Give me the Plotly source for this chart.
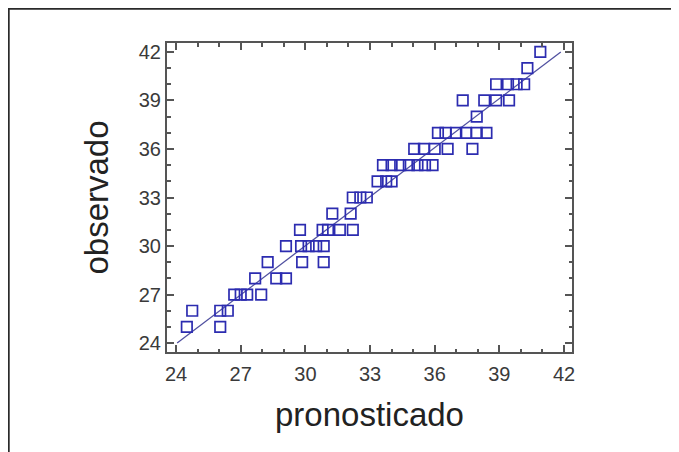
import plotly.graph_objects as go

# observed (y) vs predicted (x)
pronosticado = [
    24.5, 26.05,
    24.75, 26.05, 26.4,
    26.7, 27.0, 27.3, 27.95,
    27.67, 28.65, 29.1,
    28.25, 29.85, 30.85,
    29.1, 29.8, 30.15, 30.5, 30.85,
    29.75, 30.8, 31.05, 31.6, 32.2,
    31.25, 32.1,
    32.2, 32.55, 32.85,
    33.35, 33.75, 34.0,
    33.6, 34.0, 34.4, 34.8, 35.2, 35.55, 35.9,
    35.05, 35.5, 36.0, 36.6, 37.75,
    36.15, 36.5, 37.0, 37.45, 37.95, 38.4,
    37.95,
    37.3, 38.3, 38.85, 39.45,
    38.85, 39.4, 39.8, 40.15,
    40.3,
    40.9,
]
observado = [
    25, 25,
    26, 26, 26,
    27, 27, 27, 27,
    28, 28, 28,
    29, 29, 29,
    30, 30, 30, 30, 30,
    31, 31, 31, 31, 31,
    32, 32,
    33, 33, 33,
    34, 34, 34,
    35, 35, 35, 35, 35, 35, 35,
    36, 36, 36, 36, 36,
    37, 37, 37, 37, 37, 37,
    38,
    39, 39, 39, 39,
    40, 40, 40, 40,
    41,
    42,
]

# fitted line end points
fit_x = [24.05, 41.85]
fit_y = [24.0, 42.0]

x_range = [23.58, 42.37]
y_range = [23.45, 42.55]
tick_vals = [24, 27, 30, 33, 36, 39, 42]
tick_text = ["24", "27", "30", "33", "36", "39", "42"]

FONT = "Liberation Sans, Arial, sans-serif"

fig = go.Figure()
fig.add_trace(go.Scatter(
    x=fit_x, y=fit_y, mode="lines",
    line=dict(color="#5050a0", width=1.3),
    showlegend=False, hoverinfo="skip",
))
fig.add_trace(go.Scatter(
    x=pronosticado, y=observado, mode="markers",
    marker=dict(symbol="square-open", size=10.5, color="#2c2cb0",
                line=dict(width=1.7, color="#2c2cb0")),
    showlegend=False,
))

axis_common = dict(
    showline=True, linecolor="#555555", linewidth=2, mirror="ticks",
    ticks="inside", ticklen=7, tickwidth=1.5, tickcolor="#555555",
    tickvals=tick_vals, ticktext=tick_text,
    showgrid=False, zeroline=False,
    tickfont=dict(family=FONT, size=20, color="#3a3a3a"),
    minor=dict(dtick=1, tick0=24, ticks="inside", ticklen=3.5, tickwidth=1.5,
               tickcolor="#555555", showgrid=False),
)

fig.update_xaxes(
    range=x_range, **axis_common, ticklabelstandoff=3,
    title=dict(text="pronosticado", standoff=19,
               font=dict(family=FONT, size=33, color="#222222")),
)
fig.update_yaxes(
    range=y_range, **axis_common,
    title=dict(text="observado", standoff=20,
               font=dict(family=FONT, size=33, color="#222222")),
)

# page body adds an 8px offset; figure is sized so it fits the window
W, H = 671, 444
L, T, PW, PH = 159, 35, 405, 309

# outer frame around the figure image (left, top, right edges)
fig.add_shape(type="rect", xref="paper", yref="paper",
              x0=(0.8 - L) / PW, x1=(669 - L) / PW,
              y0=(T + PH - 470) / PH, y1=(T + PH - 0.8) / PH,
              line=dict(color="#2a2a2a", width=1.8), layer="below")

fig.update_layout(
    width=W, height=H,
    margin=dict(l=L, r=W - L - PW, t=T, b=H - T - PH),
    plot_bgcolor="white", paper_bgcolor="white",
)

fig.write_html("out.html")
